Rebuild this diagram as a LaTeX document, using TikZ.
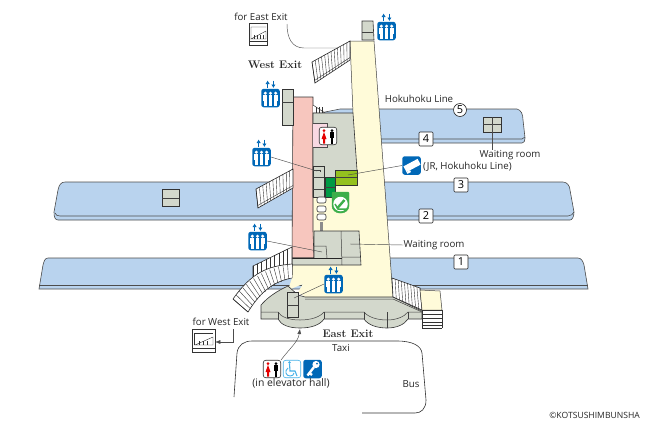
\documentclass[tikz,border=0pt]{standalone}
\usepackage{fontspec}
\usetikzlibrary{calc,arrows.meta}
\newfontfamily\labelfont{Open Sans}
\tikzset{
  planline/.style = {draw = black!75, line width = 0.5pt},
  platform/.style = {fill = platblue, draw = black!70, line width = 0.6pt},
  room/.style = {fill = roomgrey, draw = black!80, line width = 0.6pt},
  leader/.style = {draw = black!70, line width = 0.45pt},
  label/.style = {font = \labelfont\fontsize{9.7}{11}\selectfont, text = black!85, inner sep = 0pt},
  exitlabel/.style = {font = \fontsize{11}{13}\selectfont\bfseries, text = black!85, inner sep = 0pt},
  numbox/.style = {draw = black!85, fill = white, rounded corners = 1pt, minimum size = 14pt, inner sep = 0pt, line width = 0.6pt, font = \labelfont\fontsize{11}{13}\selectfont},
  iconbox/.style = {fill = iconblue, rounded corners = 2.5pt, minimum size = 18.5pt, inner sep = 0pt},
}
% #1 #2 are the first rail, #3 #4 the second, #5 the number of steps
\newcommand{\stairs}[5]{
  \fill[white] (#1) -- (#2) -- (#3) -- (#4) -- cycle;
  \foreach \t in {1,...,#5} {
    \draw[black!80, line width = 0.4pt] ($(#1)!\t/#5!(#2)$) -- ($(#4)!\t/#5!(#3)$);
  }
  \draw[black!85, line width = 0.6pt] (#1) -- (#2) -- (#3) -- (#4) -- cycle;
}
\newcommand{\elevicon}[3]{
  \node[iconbox] (#1) at (#2,#3) {};
  \begin{scope}[shift = {(#2,#3)}]
    \foreach \dx in {-5.2,0,5.2} {
      \fill[white] (\dx,-4.8) circle (1.7);
      \fill[white] (\dx-1.9,-2.8) rectangle (\dx+1.9,2.5);
      \fill[white] (\dx-1.3,2.5) rectangle (\dx+1.3,7.5);
    }
    \draw[iconblue, line width = 1.1pt, -{Latex[length=3.5pt,width=4.5pt]}] (-2.9,-10) -- (-2.9,-17.5);
    \draw[iconblue, line width = 1.1pt, -{Latex[length=3.5pt,width=4.5pt]}] (2.9,-17.5) -- (2.9,-10);
  \end{scope}
}
\newcommand{\toileticon}[3]{
  \node[draw = black!80, fill = white, rounded corners = 2.5pt, minimum size = 17.5pt, inner sep = 0pt, line width = 0.6pt] (#1) at (#2,#3) {};
  \begin{scope}[shift = {(#2,#3)}]
    \fill[red!90!black] (-4,-5.5) circle (1.5);
    \fill[red!90!black] (-4,-4) -- (-1.5,3) -- (-3,3) -- (-3,7.5) -- (-5,7.5) -- (-5,3) -- (-6.5,3) -- cycle;
    \fill[black] (4,-5.5) circle (1.5);
    \fill[black] (2,-4) rectangle (6,2);
    \fill[black] (2.8,2) rectangle (5.2,7.5);
  \end{scope}
}
\begin{document}
\begin{tikzpicture}[x = 1pt, y = -1pt]
\definecolor{platblue}{HTML}{B9D3EE}
\definecolor{roomgrey}{HTML}{D3D8CC}
\definecolor{hallyellow}{HTML}{FFFBD9}
\definecolor{zonepink}{HTML}{F7C6BE}
\definecolor{lightpink}{HTML}{F9D9E2}
\definecolor{limegreen}{HTML}{94C11F}
\definecolor{darkgreen}{HTML}{009944}
\definecolor{seatgreen}{HTML}{3DAE4A}
\definecolor{iconblue}{HTML}{0068B7}
\definecolor{skyblue}{HTML}{45B1E8}
\useasboundingbox (0,0) rectangle (650,424);
% platforms
\draw[platform] (320,113) -- (340,109) -- (517,109) .. controls (521,110) and (523,114) .. (523,120) -- (525,138) .. controls (525,141) and (524,143) .. (522,143) -- (320,143) -- cycle;
\draw[black!70, line width = 0.6pt] (320,139) -- (522,139) -- (525,137);
\draw[platform] (65,182) -- (563,182) .. controls (567,182) and (570,186) .. (570,190) -- (574,212) .. controls (574,217) and (572,220) .. (570,220) -- (58,220) .. controls (55,220) and (54,217) .. (54,212) -- (58,190) .. controls (59,185) and (61,182) .. (65,182) -- cycle;
\draw[black!70, line width = 0.6pt] (55,213) .. controls (56,215) and (57,216) .. (60,216) -- (568,216) .. controls (571,216) and (573,214) .. (574,212);
\draw[platform] (48,258) -- (578,258) .. controls (581,258) and (583,261) .. (584,265) -- (588,289) -- (39,289) -- (43,265) .. controls (44,261) and (45,258) .. (48,258) -- cycle;
\draw[black!70, line width = 0.6pt] (39,285) -- (588,285);
\draw[room] (162,189) rectangle (179,206);
\draw[planline] (162,198) -- (179,198);
\draw[room] (483,117) rectangle (501,132);
\draw[planline] (483,124) -- (501,124) (492,117) -- (492,124);
% concourse and rooms
\fill[hallyellow] (350,41) -- (374,41) -- (393,297) -- (305,297) -- (298,292) -- (303,284) -- (288,290) -- (292,278) -- (292,230) -- (313,230) -- (313,113) -- (353,113) -- cycle;
\draw[planline] (353,113) -- (350,41) -- (374,41) -- (393,297);
\draw[fill = zonepink, draw = black!80, line width = 0.6pt] (293,97) -- (313,97) -- (313,231) -- (314,258) -- (292,258) -- cycle;
\draw[room] (362,21) -- (373,21) -- (374,40) -- (362,40) -- cycle;
\draw[planline] (362,32) -- (373,32);
\draw[room] (282,89) -- (293,89) -- (293,125) -- (282,125) -- cycle;
\draw[planline] (282,102) -- (293,102);
\stairs{350,41}{312,62}{315,83}{350,60}{12}
\draw[black!80, line width = 0.4pt] (350,57.5) -- (314.5,80.5);
\stairs{293,169}{256,189}{258,208}{293,188}{11}
\draw[black!80, line width = 0.4pt] (293,185.5) -- (257.7,205.5);
\fill[white] (313,105) -- (325,113) -- (313,113) -- cycle;
\foreach \sx in {316,319,322} {\draw[black!80, line width = 0.4pt] (\sx,113) -- (\sx,107);}
\draw[black!80, line width = 0.5pt] (313,105) -- (325,113) -- (313,113);
\draw[room] (313,113) -- (353,113) -- (357,170) -- (357,185) -- (335,185) -- (335,197) -- (313,197) -- cycle;
\draw[fill = lightpink, draw = black!70, line width = 0.5pt] (313,123) -- (327,123) -- (327,147) -- (313,147);
\draw[room] (313,166) -- (324,166) -- (324,197) -- (313,197) -- cycle;
\draw[planline] (313,170) -- (320,170) -- (320,172) (313,177) -- (324,177) (313,189) -- (324,189);
\draw[fill = darkgreen, draw = black!80, line width = 0.5pt] (325,177) rectangle (335,197);
\draw[planline] (325,187) -- (335,187);
\draw[fill = limegreen, draw = black!80, line width = 0.6pt] (335,170) rectangle (357,185);
\draw[planline] (335,177) -- (357,177);
\foreach \py in {197,206,214} {
  \draw[fill = white, draw = black!80, line width = 0.6pt, rounded corners = 2pt] (317,\py) rectangle (326,\py+6);
}
\fill[black!45] (320,222) rectangle (323,231);
\draw[room] (314,231) -- (359,231) -- (361,265) -- (292,265) -- (292,258) -- (314,258) -- cycle;
\draw[planline] (341,231) -- (342,265) (342,257) -- (360,257) (314,246) -- (326,246) -- (327,258);
\draw[black!85, line width = 0.6pt] (292,258) -- (342,258);
% lower stairs
\stairs{292,247}{253,266}{253,282}{292,267}{9}
\fill[white] (233,299) .. controls (252,272) and (268,266) .. (292,264) -- (292,278) .. controls (270,282) and (258,296) .. (248,312) -- cycle;
\foreach \t in {0,0.067,...,1.01} {
  \pgfmathsetmacro{\ax}{(1-\t)*(1-\t)*233+2*\t*(1-\t)*256+\t*\t*292}
  \pgfmathsetmacro{\ay}{(1-\t)*(1-\t)*299+2*\t*(1-\t)*268+\t*\t*264}
  \pgfmathsetmacro{\bx}{(1-\t)*(1-\t)*248+2*\t*(1-\t)*264+\t*\t*292}
  \pgfmathsetmacro{\by}{(1-\t)*(1-\t)*312+2*\t*(1-\t)*286+\t*\t*278}
  \draw[black!80, line width = 0.4pt] (\ax,\ay) -- (\bx,\by);
}
\draw[black!85, line width = 0.6pt] (233,299) .. controls (252,272) and (268,266) .. (292,264) (292,278) .. controls (270,282) and (258,296) .. (248,312) -- (233,299);
% station front
\draw[room] (261,305) .. controls (268,297) and (277,291) .. (288,286) -- (298,295) -- (305,297) -- (393,297) -- (422,311) -- (422,319) -- (408,319) .. controls (404,325) and (396,328) .. (387,328) .. controls (377,328) and (368,325) .. (364,319) -- (324,319) .. controls (320,325) and (311,328) .. (300,328) .. controls (289,328) and (281,325) .. (278,319) -- (261,319) -- cycle;
\draw[planline] (305,299) -- (393,299) -- (422,312);
\draw[planline] (261,312) -- (278,312) .. controls (281,317) and (289,320) .. (300,320) .. controls (311,320) and (320,317) .. (324,312) -- (364,312) .. controls (368,317) and (377,320) .. (387,320) .. controls (396,320) and (404,317) .. (408,312) -- (422,312);
\draw[planline] (278,312) -- (278,319) (324,312) -- (324,319) (364,312) -- (364,319) (408,312) -- (408,319) (387,312) -- (387,328);
\draw[room] (287,292) -- (298,292) -- (298,317) -- (287,317) -- cycle;
\draw[planline] (287,305) -- (298,305);
\stairs{392,278}{420,288}{422,310}{393,297}{9}
\draw[planline, fill = hallyellow] (420,290) -- (440,291) -- (442,310) -- (422,310) -- cycle;
\fill[white] (422,310) rectangle (442,328);
\foreach \ry in {310,314,318,322,325,328} {\draw[black!80, line width = 0.5pt] (422,\ry) -- (442,\ry);}
\draw[black!80, line width = 0.5pt] (422,310) -- (422,328) (442,310) -- (442,328);
% numbers
\node[numbox, circle, minimum size = 13pt] (numfive) at (460,110) {5};
\node[numbox] (numfour) at (426,139) {4};
\node[numbox] (numthree) at (461,185) {3};
\node[numbox] (numtwo) at (426,216) {2};
\node[numbox] (numone) at (461,262) {1};
% icons
\elevicon{elevtop}{386.5}{31}
\elevicon{elevwest}{270.5}{98}
\elevicon{elevmid}{261.5}{157}
\elevicon{elevlow}{257.5}{241}
\elevicon{elevfront}{333.5}{284}
\toileticon{toiletup}{328}{136}
\toileticon{toiletdown}{272}{369}
\node[draw = skyblue, fill = white, rounded corners = 2.5pt, minimum size = 17.5pt, inner sep = 0pt, line width = 0.6pt] (wheelchair) at (292,369) {};
\fill[skyblue] (289.5,362.5) circle (1.3);
\draw[skyblue, line width = 1.1pt] (289.5,364) -- (290,371) -- (295,371) -- (297,376);
\draw[skyblue, line width = 0.9pt] (288,368) .. controls (284,371) and (286,376) .. (290,376) .. controls (292,376) and (294,375) .. (294,373);
\node[iconbox] (keybox) at (312.5,369) {};
\fill[white] (316,364.5) circle (3.6);
\fill[iconblue] (317,363.5) circle (1);
\draw[white, line width = 2.4pt] (314,367) -- (307.5,375.5) (309.5,373) -- (312,375);
\node[iconbox] (ticketbox) at (411.5,165.5) {};
\fill[white, rotate around = {28:(411.5,165.5)}] (404,162.5) rectangle (420,169);
\fill[white, rotate around = {28:(411.5,165.5)}] (404,169) rectangle (408,171);
\draw[fill = seatgreen, draw = seatgreen, rounded corners = 1pt] (332,192) -- (349,192) -- (349,205) .. controls (349,210) and (345,213) .. (340.5,213) .. controls (336,213) and (332,210) .. (332,205) -- cycle;
\node[circle, fill = white, minimum size = 14.5pt, inner sep = 0pt] (seatmark) at (340.5,204) {};
\draw[seatgreen, line width = 2.4pt] (337,208.5) -- (344.5,200);
\draw[seatgreen, line width = 1.5pt] (335,204) -- (338,209) -- (346,209);
\node[draw = black!80, fill = white, minimum width = 18pt, minimum height = 22pt, inner sep = 0pt, line width = 0.5pt] (stubeast) at (258.5,34.5) {};
\draw[black!80, line width = 0.4pt] (249.5,41) -- (267.5,41);
\draw[black!80, line width = 0.4pt] (251,39) -- (266,31) -- (266,39) -- cycle (251,27) -- (266,27) (251,27) -- (251,39);
\foreach \hx in {254,257,260,263} {\draw[black!80, line width = 0.4pt] (\hx,39) -- (\hx,35);}
\node[draw = black!80, fill = white, minimum width = 23pt, minimum height = 23pt, inner sep = 0pt, line width = 0.5pt] (stubwest) at (203.5,340.5) {};
\draw[black!80, line width = 0.4pt] (192,348) -- (215,348) (194,333) -- (213,333) (194,333) -- (194,345);
\draw[black!80, line width = 0.4pt] (195,345) -- (213,337) -- (213,345) -- cycle;
\foreach \hx in {199,203,207} {\draw[black!80, line width = 0.4pt] (\hx,345) -- (\hx,341);}
% texts
\node[label] (foreast) at (261,17) {for East Exit};
\node[exitlabel] (westexit) at (275,65) {West Exit};
\node[label] (hokuhoku) at (419,99) {Hokuhoku Line};
\node[label] (waitupper) at (510,155) {Waiting room};
\node[label, anchor = west] (jrline) at (423,167) {(JR, Hokuhoku Line)};
\node[label] (waitlower) at (434,245) {Waiting room};
\node[label] (forwest) at (221,322) {for West Exit};
\node[exitlabel] (eastexit) at (348,334) {East Exit};
\node[label] (taxi) at (341,348) {Taxi};
\node[label, font = \labelfont\fontsize{10.4}{12}\selectfont] (elevhall) at (291,383) {(in elevator hall)};
\node[label] (bus) at (411,384) {Bus};
\node[label, anchor = east, font = \labelfont\fontsize{8.6}{10}\selectfont] (copyright) at (640,415) {©KOTSUSHIMBUNSHA};
% leaders
\coordinate (stairtop) at (337,48);
\coordinate (waitdot) at (492,124);
\coordinate (lowroomdot) at (350,244);
\coordinate (limedot) at (348,175);
\coordinate (midstair) at (317,171);
\coordinate (lowstair) at (322,252);
\coordinate (frontstair) at (294,298);
\coordinate (archtop) at (300,329);
\coordinate (westbend) at (233,342);
\draw[leader] (287,24) .. controls (287,38) and (292,48) .. (304,48) -- (stairtop);
\draw[leader] (waitdot) -- (waitupper.north -| waitdot);
\draw[leader] (lowroomdot) -- (waitlower.west);
\draw[leader] (limedot) -- (ticketbox.west);
\draw[leader] (elevmid.east) -- (midstair);
\draw[leader] (elevlow.east) -- (lowstair);
\draw[leader] (elevfront.west) -- (frontstair);
\draw[leader, -{Latex[length=5pt,width=4pt]}] (toiletdown.north east) .. controls (290,348) and (298,342) .. (archtop);
\draw[leader, -{Latex[length=5pt,width=4pt]}] (233,329) -- (westbend) -- (stubwest.east |- westbend);
% road
\draw[black!80, line width = 0.6pt] (234,397) -- (237,353) .. controls (238,345) and (244,341) .. (252,341) -- (397,341) .. controls (413,341) and (421,346) .. (422,353) -- (426,400) .. controls (426,409) and (421,413) .. (415,413) -- (362,413);
\end{tikzpicture}
\end{document}
